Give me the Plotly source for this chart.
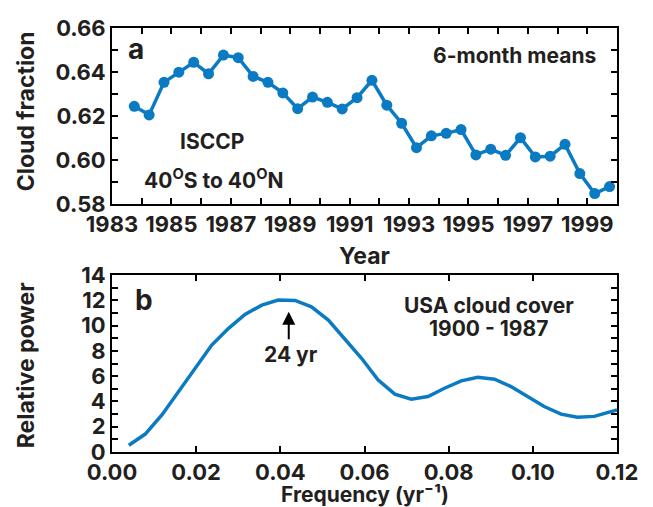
import plotly.graph_objects as go

# ---- data: panel a (ISCCP 6-month means) ----
years = [1983.75, 1984.25, 1984.75, 1985.25, 1985.75, 1986.25, 1986.75, 1987.25,
         1987.75, 1988.25, 1988.75, 1989.25, 1989.75, 1990.25, 1990.75, 1991.25,
         1991.75, 1992.25, 1992.75, 1993.25, 1993.75, 1994.25, 1994.75, 1995.25,
         1995.75, 1996.25, 1996.75, 1997.25, 1997.75, 1998.25, 1998.75, 1999.25,
         1999.75]
cloud_fraction = [0.6244, 0.6205, 0.6353, 0.6399, 0.6444, 0.6392, 0.6477, 0.6465,
                  0.6380, 0.6353, 0.6305, 0.6233, 0.6286, 0.6262, 0.6232, 0.6283,
                  0.6362, 0.6249, 0.6167, 0.6056, 0.6110, 0.6121, 0.6138, 0.6023,
                  0.6049, 0.6021, 0.6101, 0.6014, 0.6017, 0.6071, 0.5938, 0.5847,
                  0.5879]

# ---- data: panel b (USA cloud cover spectrum) ----
freq = [0.0040, 0.0079, 0.0119, 0.0158, 0.0198, 0.0237, 0.0277, 0.0316, 0.0356,
        0.0395, 0.0435, 0.0474, 0.0514, 0.0553, 0.0593, 0.0632, 0.0672, 0.0711,
        0.0751, 0.0790, 0.0830, 0.0869, 0.0909, 0.0948, 0.0988, 0.1027, 0.1067,
        0.1106, 0.1146, 0.1200]
power = [0.53, 1.42, 2.95, 4.79, 6.68, 8.47, 9.79, 10.9, 11.63, 12.03, 12.0, 11.5,
         10.45, 9.0, 7.42, 5.71, 4.58, 4.18, 4.39, 5.05, 5.63, 5.92, 5.76, 5.18,
         4.39, 3.6, 3.0, 2.76, 2.82, 3.34]

year_ticks = list(range(1983, 2001))
year_labels = [str(y) if y % 2 == 1 and y < 2000 else "" for y in year_ticks]
cf_ticks = [0.58, 0.59, 0.60, 0.61, 0.62, 0.63, 0.64, 0.65, 0.66]
cf_labels = ["0.58", "", "0.60", "", "0.62", "", "0.64", "", "0.66"]
pw_ticks = list(range(0, 15))
pw_labels = [str(v) if v % 2 == 0 else "" for v in pw_ticks]
freq_ticks = [0, 0.02, 0.04, 0.06, 0.08, 0.10, 0.12]
freq_labels = ["0.00", "0.02", "0.04", "0.06", "0.08", "0.10", "0.12"]

BLUE = "#0a7bc2"
INK = "#231f20"
FONT = "Inter"

fig = go.Figure()
fig.add_trace(go.Scatter(x=years, y=cloud_fraction, mode="lines+markers",
                         line=dict(color=BLUE, width=3.5),
                         marker=dict(color=BLUE, size=11),
                         xaxis="x", yaxis="y", showlegend=False))
fig.add_trace(go.Scatter(x=freq, y=power, mode="lines",
                         line=dict(color=BLUE, width=3.5),
                         xaxis="x2", yaxis="y2", showlegend=False))

axis_common = dict(showline=True, linecolor="black", linewidth=2, mirror="ticks",
                   ticks="inside", ticklen=6, tickwidth=2, tickcolor="black",
                   showgrid=False, zeroline=False, tickangle=0,
                   tickfont=dict(family=FONT, size=22, color=INK, weight="bold"))

fig.update_layout(
    width=653, height=507,
    margin=dict(l=112, r=36, t=28, b=55),
    paper_bgcolor="white", plot_bgcolor="white",
    xaxis=dict(domain=[0, 1], anchor="y", range=[1983, 2000],
               tickmode="array", tickvals=year_ticks, ticktext=year_labels,
               **axis_common),
    yaxis=dict(domain=[0.585, 1], anchor="x", range=[0.58, 0.66],
               tickmode="array", tickvals=cf_ticks, ticktext=cf_labels,
               **axis_common),
    xaxis2=dict(domain=[0, 1], anchor="y2", range=[0, 0.12],
                tickmode="array", tickvals=freq_ticks, ticktext=freq_labels,
                **axis_common),
    yaxis2=dict(domain=[0, 0.417], anchor="x2", range=[0, 14],
                tickmode="array", tickvals=pw_ticks, ticktext=pw_labels,
                **axis_common),
)

def txt(size):
    return dict(family=FONT, size=size, color=INK, weight="bold")

ann = [
    # panel a texts
    dict(x=1983.82, y=0.6505, xref="x", yref="y", text="a", showarrow=False,
         font=txt(28), xanchor="center", yanchor="middle"),
    dict(x=1999.35, y=0.6476, xref="x", yref="y", text="6-month means", showarrow=False,
         font=txt(21), xanchor="right", yanchor="middle"),
    dict(x=1986.38, y=0.6085, xref="x", yref="y", text="ISCCP", showarrow=False,
         font=txt(21), xanchor="center", yanchor="middle"),
    dict(x=1986.40, y=0.5915, xref="x", yref="y",
         text="40<sup>O</sup>S to 40<sup>O</sup>N", showarrow=False,
         font=txt(21), xanchor="center", yanchor="middle"),
    # panel b texts
    dict(x=0.0076, y=12.0, xref="x2", yref="y2", text="b", showarrow=False,
         font=txt(28), xanchor="center", yanchor="middle"),
    dict(x=0.0896, y=11.6, xref="x2", yref="y2", text="USA cloud cover", showarrow=False,
         font=txt(21), xanchor="center", yanchor="middle"),
    dict(x=0.0894, y=9.74, xref="x2", yref="y2", text="1900 - 1987", showarrow=False,
         font=txt(21), xanchor="center", yanchor="middle"),
    dict(x=0.0425, y=7.7, xref="x2", yref="y2", text="24 yr", showarrow=False,
         font=txt(21), xanchor="center", yanchor="middle"),
    dict(x=0.042, y=11.1, xref="x2", yref="y2", ax=0.042, ay=8.8,
         axref="x2", ayref="y2", text="", showarrow=True, arrowhead=2,
         arrowsize=1.3, arrowwidth=2, arrowcolor="black"),
    # axis titles
    dict(x=0.5, y=0.462, xref="paper", yref="paper", text="Year", showarrow=False,
         font=txt(23), xanchor="center", yanchor="middle"),
    dict(x=0.5, y=-0.1, xref="paper", yref="paper", text="Frequency (yr\u207b\u00b9)",
         showarrow=False, font=txt(21), xanchor="center", yanchor="middle"),
    dict(x=-0.17, y=0.804, xref="paper", yref="paper", text="Cloud fraction",
         showarrow=False, font=txt(23), textangle=-90, xanchor="center", yanchor="middle"),
    dict(x=-0.17, y=0.205, xref="paper", yref="paper", text="Relative power",
         showarrow=False, font=txt(23), textangle=-90, xanchor="center", yanchor="middle"),
]
fig.update_layout(annotations=ann)

fig.write_html("out.html")
